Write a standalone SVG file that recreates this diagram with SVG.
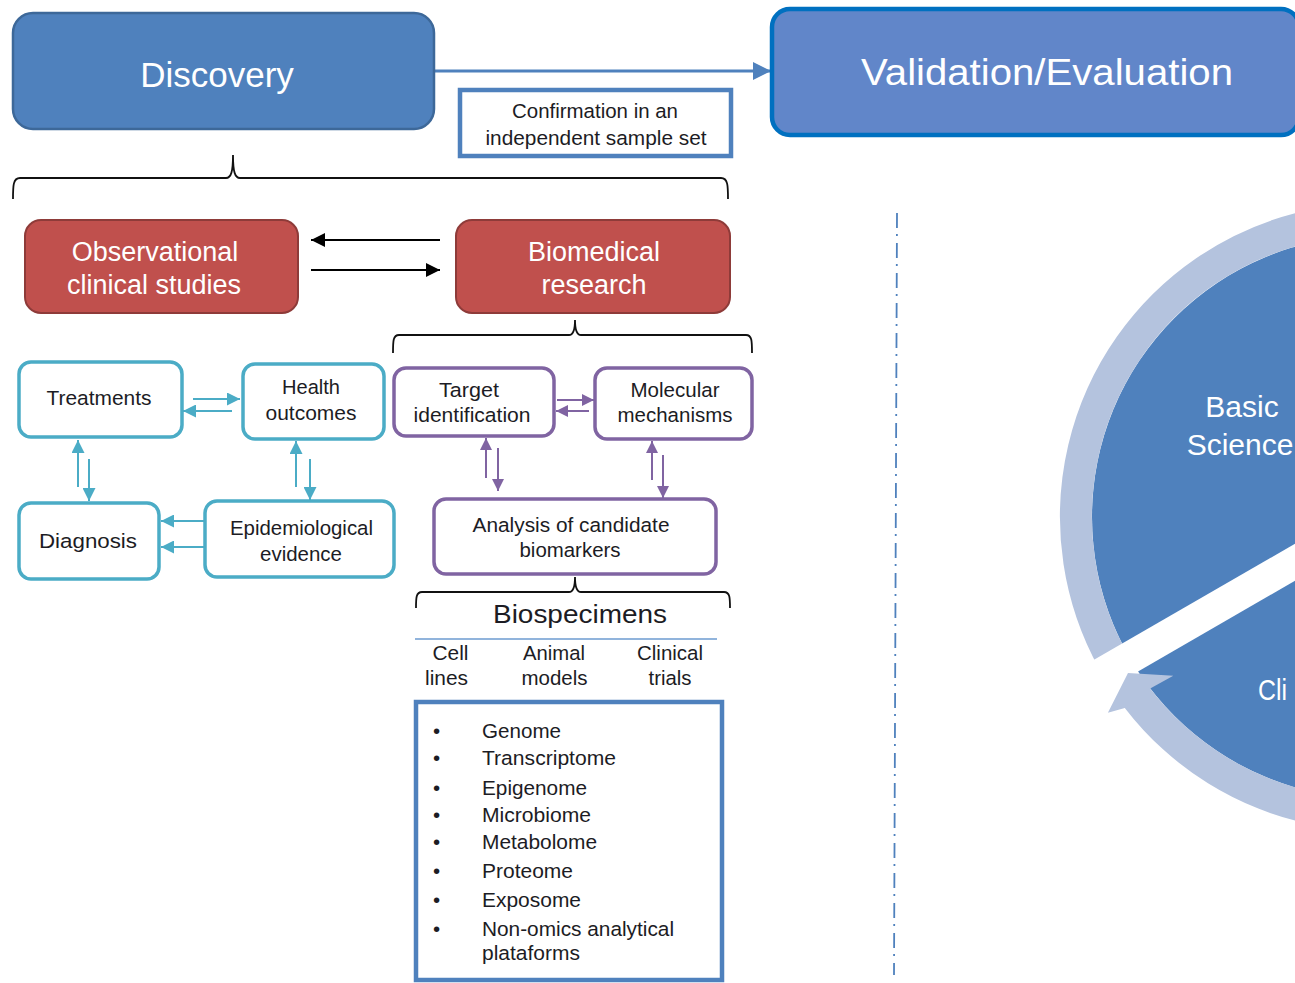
<svg xmlns="http://www.w3.org/2000/svg" width="1295" height="983" viewBox="0 0 1295 983">
<defs>
<style>
text{font-family:"Liberation Sans",Arial,sans-serif}
.big{fill:#fff;text-anchor:middle}
.sm{font-size:20.5px;fill:#1c1c24;text-anchor:middle}
.lst{font-size:20.5px;fill:#1c1c24}
.teal{fill:#fff;stroke:#4bacc6;stroke-width:3.5}
.purp{fill:#fff;stroke:#8064a2;stroke-width:3.5}
.red{fill:#c0504d;stroke:#8e3b39;stroke-width:2}
.tl{stroke:#4bacc6;stroke-width:2;fill:none}
.pl{stroke:#8064a2;stroke-width:2;fill:none}
.bl{stroke:#000;stroke-width:2;fill:none}
.brace{stroke:#111;stroke-width:1.8;fill:none}
</style>
<marker id="mT" viewBox="0 0 10 10" refX="10" refY="5" markerWidth="13" markerHeight="13" markerUnits="userSpaceOnUse" orient="auto"><path d="M0,0 L10,5 L0,10 z" fill="#4bacc6"/></marker>
<marker id="mP" viewBox="0 0 10 10" refX="10" refY="5" markerWidth="12" markerHeight="12" markerUnits="userSpaceOnUse" orient="auto"><path d="M0,0 L10,5 L0,10 z" fill="#8064a2"/></marker>
<marker id="mK" viewBox="0 0 10 10" refX="10" refY="5" markerWidth="14" markerHeight="14" markerUnits="userSpaceOnUse" orient="auto"><path d="M0,0 L10,5 L0,10 z" fill="#000"/></marker>
<marker id="mB" viewBox="0 0 10 10" refX="10" refY="5" markerWidth="18" markerHeight="18" markerUnits="userSpaceOnUse" orient="auto"><path d="M0,0 L10,5 L0,10 z" fill="#4f81bd"/></marker>
</defs>
<rect width="1295" height="983" fill="#fff"/>

<g id="connectors">
<line x1="435" y1="71" x2="771" y2="71" stroke="#4f81bd" stroke-width="3" marker-end="url(#mB)"/>
<line class="bl" x1="440" y1="240" x2="311" y2="240" marker-end="url(#mK)"/>
<line class="bl" x1="311" y1="270" x2="440" y2="270" marker-end="url(#mK)"/>
<line class="tl" x1="193" y1="399" x2="240" y2="399" marker-end="url(#mT)"/>
<line class="tl" x1="232" y1="411" x2="183" y2="411" marker-end="url(#mT)"/>
<line class="tl" x1="78" y1="487" x2="78" y2="440" marker-end="url(#mT)"/>
<line class="tl" x1="89" y1="459" x2="89" y2="501" marker-end="url(#mT)"/>
<line class="tl" x1="296" y1="487" x2="296" y2="441" marker-end="url(#mT)"/>
<line class="tl" x1="310" y1="459" x2="310" y2="500" marker-end="url(#mT)"/>
<line class="tl" x1="204" y1="521" x2="161" y2="521" marker-end="url(#mT)"/>
<line class="tl" x1="204" y1="547" x2="161" y2="547" marker-end="url(#mT)"/>
<line class="pl" x1="557" y1="400" x2="594" y2="400" marker-end="url(#mP)"/>
<line class="pl" x1="589" y1="411" x2="556" y2="411" marker-end="url(#mP)"/>
<line class="pl" x1="486" y1="478" x2="486" y2="438" marker-end="url(#mP)"/>
<line class="pl" x1="498" y1="448" x2="498" y2="491" marker-end="url(#mP)"/>
<line class="pl" x1="652" y1="480" x2="652" y2="441" marker-end="url(#mP)"/>
<line class="pl" x1="663" y1="455" x2="663" y2="498" marker-end="url(#mP)"/>
<path class="brace" d="M13 199 C13 186 13 178 20 178 L226 178 C231 178 233 172 233 155 C233 172 235 178 240 178 L721 178 C728 178 728 186 728 199"/>
<path class="brace" d="M393 353 C393 341 393 335 399 335 L569 335 C573 335 575 331 575 320 C575 331 577 335 581 335 L746 335 C752 335 752 341 752 353"/>
<path class="brace" d="M416 608 C416 598 416 592 422 592 L569 592 C573 592 575 588 575 577 C575 588 577 592 581 592 L724 592 C730 592 730 598 730 608"/>
<path d="M897 213 L894 975" stroke="#4f81bd" stroke-width="1.8" stroke-dasharray="15 6 2 7" fill="none"/>
</g>

<g id="discovery">
<rect x="13" y="13" width="421" height="116" rx="20" fill="#4f81bd" stroke="#3d6899" stroke-width="2.5"/>
<text class="big" x="217" y="87" font-size="35">Discovery</text>
</g>
<g id="validation">
<rect x="772" y="9" width="527" height="126" rx="18" fill="#6186c9" stroke="#0070c0" stroke-width="4.5"/>
<text class="big" x="1047" y="85" font-size="37.5" textLength="372" lengthAdjust="spacingAndGlyphs">Validation/Evaluation</text>
</g>
<g id="confirmation">
<rect x="460" y="90" width="271" height="66" fill="#fff" stroke="#4f81bd" stroke-width="4.5"/>
<text class="sm" x="595" y="118" textLength="166" lengthAdjust="spacingAndGlyphs">Confirmation in an</text>
<text class="sm" x="596" y="145" textLength="221" lengthAdjust="spacingAndGlyphs">independent sample set</text>
</g>
<g id="observational">
<rect class="red" x="25" y="220" width="273" height="93" rx="16"/>
<text class="big" x="155" y="261" font-size="27">Observational</text>
<text class="big" x="154" y="294" font-size="27">clinical studies</text>
</g>
<g id="biomedical">
<rect class="red" x="456" y="220" width="274" height="93" rx="16"/>
<text class="big" x="594" y="261" font-size="27">Biomedical</text>
<text class="big" x="594" y="294" font-size="27">research</text>
</g>
<g id="treatments">
<rect class="teal" x="19" y="362" width="163" height="75" rx="12"/>
<text class="sm" x="99" y="405" textLength="105" lengthAdjust="spacingAndGlyphs">Treatments</text>
</g>
<g id="health">
<rect class="teal" x="243" y="364" width="141" height="75" rx="12"/>
<text class="sm" x="311" y="394" textLength="58" lengthAdjust="spacingAndGlyphs">Health</text>
<text class="sm" x="311" y="420" textLength="91" lengthAdjust="spacingAndGlyphs">outcomes</text>
</g>
<g id="diagnosis">
<rect class="teal" x="19" y="503" width="140" height="76" rx="12"/>
<text class="sm" x="88" y="548" textLength="98" lengthAdjust="spacingAndGlyphs">Diagnosis</text>
</g>
<g id="epidemiological">
<rect class="teal" x="205" y="501" width="189" height="76" rx="12"/>
<text class="sm" x="301.5" y="535" textLength="143" lengthAdjust="spacingAndGlyphs">Epidemiological</text>
<text class="sm" x="301" y="561" textLength="82" lengthAdjust="spacingAndGlyphs">evidence</text>
</g>
<g id="target">
<rect class="purp" x="394" y="368" width="160" height="68" rx="12"/>
<text class="sm" x="469" y="397" textLength="60" lengthAdjust="spacingAndGlyphs">Target</text>
<text class="sm" x="472" y="422" textLength="117" lengthAdjust="spacingAndGlyphs">identification</text>
</g>
<g id="molecular">
<rect class="purp" x="595" y="368" width="157" height="71" rx="12"/>
<text class="sm" x="675" y="397" textLength="89" lengthAdjust="spacingAndGlyphs">Molecular</text>
<text class="sm" x="675" y="422" textLength="115" lengthAdjust="spacingAndGlyphs">mechanisms</text>
</g>
<g id="analysis">
<rect class="purp" x="434" y="499" width="282" height="75" rx="12"/>
<text class="sm" x="571" y="532" textLength="197" lengthAdjust="spacingAndGlyphs">Analysis of candidate</text>
<text class="sm" x="570" y="557" textLength="101" lengthAdjust="spacingAndGlyphs">biomarkers</text>
</g>
<g id="biospecimens">
<text x="580" y="623" font-size="25" fill="#1c1c24" text-anchor="middle" textLength="174" lengthAdjust="spacingAndGlyphs">Biospecimens</text>
<path d="M415 639 L717 639" stroke="#6d9bd1" stroke-width="1.6"/>
<text class="sm" x="450.5" y="660" textLength="36" lengthAdjust="spacingAndGlyphs">Cell</text>
<text class="sm" x="446.5" y="685" textLength="43" lengthAdjust="spacingAndGlyphs">lines</text>
<text class="sm" x="554" y="660" textLength="62" lengthAdjust="spacingAndGlyphs">Animal</text>
<text class="sm" x="554.5" y="685" textLength="66" lengthAdjust="spacingAndGlyphs">models</text>
<text class="sm" x="670" y="660" textLength="66" lengthAdjust="spacingAndGlyphs">Clinical</text>
<text class="sm" x="670" y="685" textLength="43" lengthAdjust="spacingAndGlyphs">trials</text>
</g>
<g id="omics">
<rect x="416" y="702" width="306" height="278" fill="#fff" stroke="#4f81bd" stroke-width="4.5"/>
<g class="lst">
<text x="433" y="738">•</text><text x="482" y="738" textLength="79" lengthAdjust="spacingAndGlyphs">Genome</text>
<text x="433" y="765">•</text><text x="482" y="765" textLength="134" lengthAdjust="spacingAndGlyphs">Transcriptome</text>
<text x="433" y="795">•</text><text x="482" y="795" textLength="105" lengthAdjust="spacingAndGlyphs">Epigenome</text>
<text x="433" y="822">•</text><text x="482" y="822" textLength="109" lengthAdjust="spacingAndGlyphs">Microbiome</text>
<text x="433" y="849">•</text><text x="482" y="849" textLength="115" lengthAdjust="spacingAndGlyphs">Metabolome</text>
<text x="433" y="878">•</text><text x="482" y="878" textLength="91" lengthAdjust="spacingAndGlyphs">Proteome</text>
<text x="433" y="907">•</text><text x="482" y="907" textLength="99" lengthAdjust="spacingAndGlyphs">Exposome</text>
<text x="433" y="936">•</text><text x="482" y="936" textLength="192" lengthAdjust="spacingAndGlyphs">Non-omics analytical</text>
<text x="482" y="960" textLength="98" lengthAdjust="spacingAndGlyphs">plataforms</text>
</g>
</g>
<g id="cycle">
<circle cx="1373.5" cy="517" r="281.5" fill="#4f81bd"/>
<path d="M1113.3 661.2 A297.5 297.5 0 0 1 1601.4 325.7" stroke="#b4c3de" stroke-width="32" fill="none"/>
<polygon points="1381.5,530.9 1078.4,705.9 1062.4,678.1 1365.5,503.1" fill="#fff"/>
<path d="M1530.25 788.5 A313.5 313.5 0 0 1 1124.8 707.9 L1107.9 712.8 L1128 673 L1173.3 675.7 L1150.2 688.4 A281.5 281.5 0 0 0 1514.25 760.8 Z" fill="#b4c3de"/>
<text class="big" x="1242" y="417" font-size="30">Basic</text>
<text class="big" x="1240" y="455" font-size="30">Science</text>
<text x="1258" y="700" font-size="30" fill="#fff" textLength="29" lengthAdjust="spacingAndGlyphs">Cli</text>
</g>
</svg>
